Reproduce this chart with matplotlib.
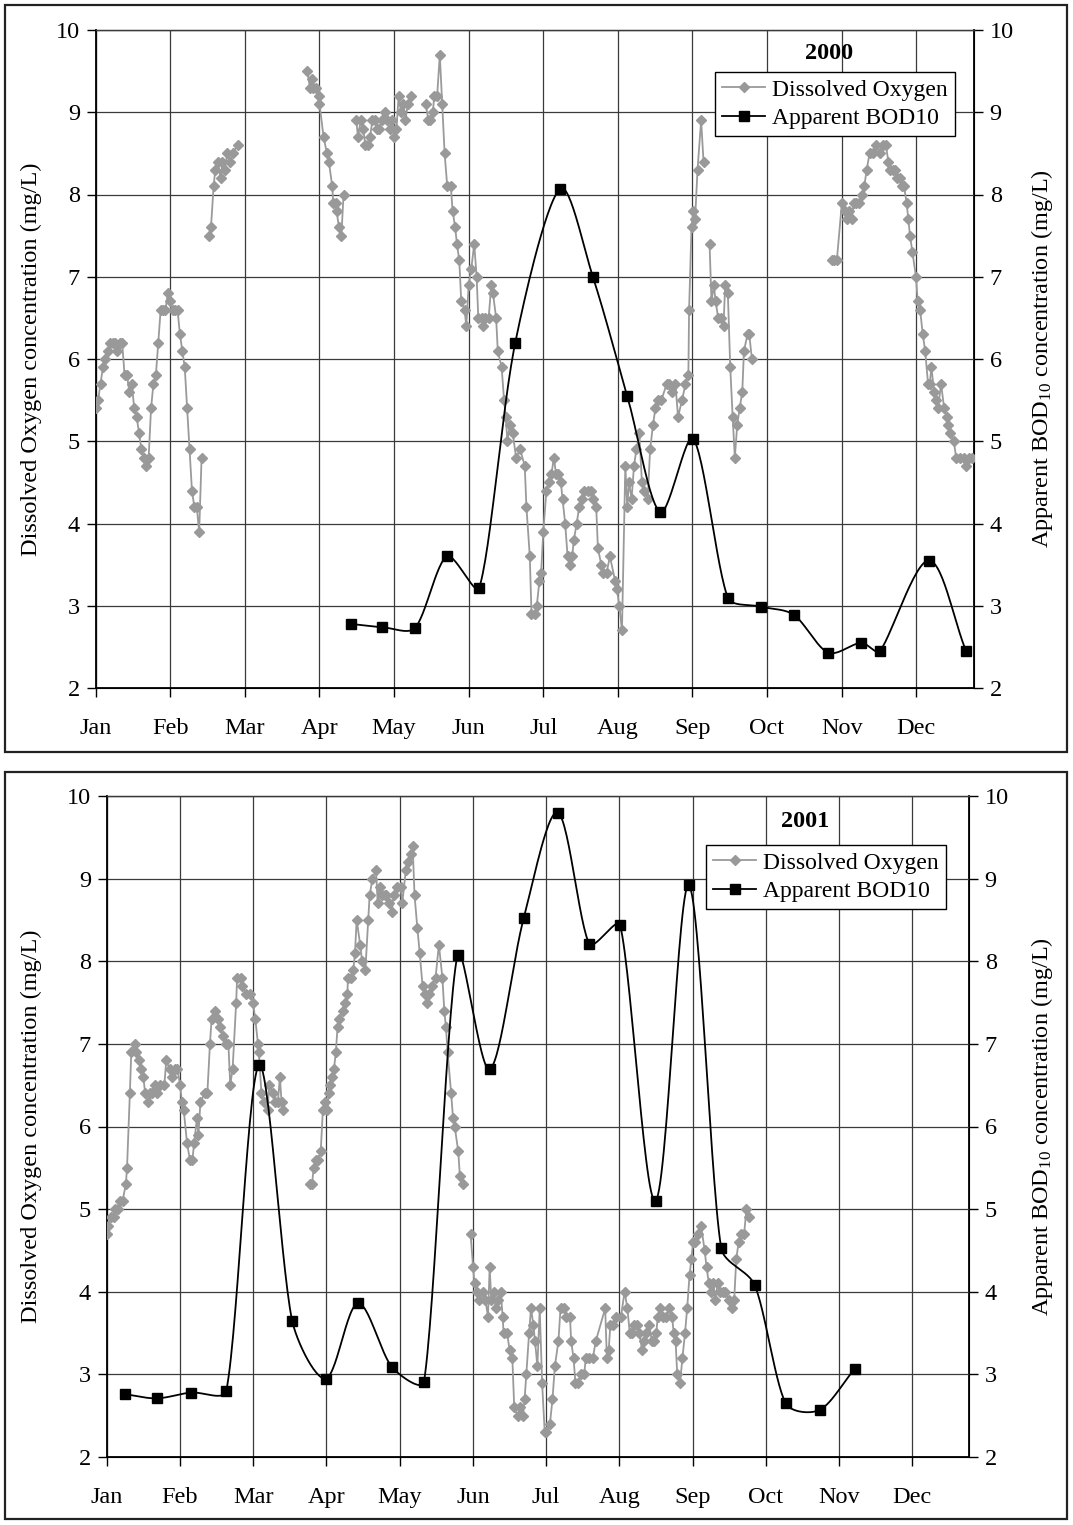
import numpy as np
import matplotlib
matplotlib.use('Agg')
import matplotlib.pyplot as plt
from matplotlib.patches import Rectangle

plt.rcParams['font.family'] = ['Liberation Serif', 'DejaVu Serif']
plt.rcParams['mathtext.default'] = 'regular'

months = ['Jan', 'Feb', 'Mar', 'Apr', 'May', 'Jun', 'Jul', 'Aug', 'Sep', 'Oct', 'Nov', 'Dec']
month_ticks = [31 * i for i in range(12)]
yticks = [2, 3, 4, 5, 6, 7, 8, 9, 10]

# ---- 2000 ----
# dissolved oxygen, day of year / mg/L (nan = break in record)
do00_day = [0, 1, 2, 3, 4, 5, 6, 7, 8, 9, 10, 11, 12, 13, 14, 15, 16, 17, 18, 19, 20, 21, 22, 23, 24,
            25, 26, 27, 28, 29, 30, 31, 32, 33, 34, 35, 36, 37, 38, 39, 40, 41, 42, 43, 44, np.nan,
            46.9, 47.9, 49, 49.7, 50.7, 51.9, 52.6, 53.6, 54.7, 55.9, 56.9, 59, np.nan,
            88, 89, 89.7, 90.4, 91.6, 92.6, 93, 94.7, 96.1, 96.9, 98.3, 98.7, 99.7, 100.1, 101.1, 102.1,
            103, np.nan,
            108.3, 109, 110.1, 111.1, 112.1, 113, 114, 115, 115.9, 116.9, 117.6, 119, 120.1, 121.1, 122.1,
            123.3, 124, 125, 125.9, 126.9, 127.9, 128.7, 129.7, 130.9, np.nan,
            137.1, 138.3, 139, 140.1, 140.7, 141.9, 143, 144, 145, 146.1, 147.6, 148.3, 149.4, 150.1, 151.1,
            151.9, 153.3, 154, 155, 156.1, 157.3, 158.3, 159, 160.4, 161.1, 161.9, 163.3, 164.4, 165.1,
            166.4, 167.1, 168.7, 169.7, 170.4, 171.1, 172.1, 173.3, 174.7, 176.4, 178.3, 179, 180.4, 181.1,
            182.6, 183.3, 184.4, 185.1, 186, 187.3, 188.4, 189.4, 190.4, 191.3, 192.3, 193.3, 194, 195.1,
            196.1, 197, 198, 198.7, 199.9, 200.9, 201.9, 203, 204.4, 205.9, 206.6, 208, 208.7, 210.1, 210.9,
            212.3, 213.7, 215.9, 216.6, 217.6, 218.7, 220.1, 220.9, 221.6, 222.7, 223.7, 224.7, 225.9, 227,
            228, 229.4, 230.4, 231.6, 232.6, 233.7, 235.1, 237.3, 238.4, 239.4, 240.9, 242, 243.7, 245.1,
            246.3, 246.6, 247.6, 248.4, 249.1, 250.1, 251.6, 252.6, np.nan,
            255.1, 255.9, 256.9, 257.6, 258.7, 259.9, 260.9, 261.6, 262.7, 263.7, 264.7, 265.6, 266.6, 267.6,
            268.7, 269.4, 270.9, 271.6, 272.7, np.nan,
            305.9, 307, 308, 310.1, 311.3, 312.3, 313, 314.1, 315.1, 316.1, 317.3, 318.4, 319.4, 320.4, 321.6,
            323, 324.4, 326.1, 327.3, 328.4, 329.4, 330.1, 331.3, 332.3, 333, 334.1, 335.1, 335.9, 337, 337.7,
            338.4, 339.4, 340.9, 341.6, 342.6, 343.7, 344.7, 345.9, 346.6, 347.3, 348.4, 349.4, 350.1, 351.3,
            352.6, 353.6, 354.4, 355, 356.6, 357.6, 359, 360.7, 361.6, 363, 364]
do00_val = [5.4, 5.5, 5.7, 5.9, 6.0, 6.1, 6.2, 6.2, 6.2, 6.1, 6.2, 6.2, 5.8, 5.8, 5.6, 5.7, 5.4, 5.3, 5.1, 4.9,
            4.8, 4.7, 4.8, 5.4, 5.7, 5.8, 6.2, 6.6, 6.6, 6.6, 6.8, 6.7, 6.6, 6.6, 6.6, 6.3, 6.1, 5.9, 5.4, 4.9,
            4.4, 4.2, 4.2, 3.9, 4.8, np.nan,
            7.5, 7.6, 8.1, 8.3, 8.4, 8.2, 8.4, 8.3, 8.5, 8.4, 8.5, 8.6, np.nan,
            9.5, 9.3, 9.4, 9.3, 9.3, 9.2, 9.1, 8.7, 8.5, 8.4, 8.1, 7.9, 7.9, 7.8, 7.6, 7.5, 8.0, np.nan,
            8.9, 8.7, 8.9, 8.8, 8.6, 8.6, 8.7, 8.9, 8.9, 8.8, 8.8, 8.9, 9.0, 8.9, 8.8, 8.9, 8.7, 8.8, 9.2, 9.0,
            9.1, 8.9, 9.1, 9.2, np.nan,
            9.1, 8.9, 8.9, 9.0, 9.2, 9.2, 9.7, 9.1, 8.5, 8.1, 8.1, 7.8, 7.6, 7.4, 7.2, 6.7, 6.6, 6.4, 6.9, 7.1,
            7.4, 7.0, 6.5, 6.5, 6.4, 6.5, 6.5, 6.9, 6.8, 6.5, 6.1, 5.9, 5.5, 5.3, 5.0, 5.2, 5.1, 4.8, 4.9, 4.7,
            4.2, 3.6, 2.9, 2.9, 3.0, 3.3, 3.4, 3.9, 4.4, 4.5, 4.6, 4.8, 4.6, 4.6, 4.5, 4.3, 4.0, 3.6, 3.5, 3.6,
            3.8, 4.0, 4.2, 4.3, 4.4, 4.4, 4.4, 4.3, 4.2, 3.7, 3.5, 3.4, 3.4, 3.6, 3.3, 3.2, 3.0, 2.7, 4.7, 4.2,
            4.5, 4.3, 4.7, 4.9, 5.1, 4.5, 4.4, 4.3, 4.9, 5.2, 5.4, 5.5, 5.5, 5.7, 5.7, 5.6, 5.7, 5.3, 5.5, 5.7,
            5.8, 6.6, 7.6, 7.8, 7.7, 8.3, 8.9, 8.4, np.nan,
            7.4, 6.7, 6.9, 6.7, 6.5, 6.5, 6.4, 6.9, 6.8, 5.9, 5.3, 4.8, 5.2, 5.4, 5.6, 6.1, 6.3, 6.3, 6.0,
            np.nan,
            7.2, 7.2, 7.2, 7.9, 7.8, 7.7, 7.8, 7.7, 7.9, 7.9, 7.9, 8.0, 8.1, 8.3, 8.5, 8.5, 8.6, 8.5, 8.6, 8.6,
            8.4, 8.3, 8.3, 8.3, 8.2, 8.2, 8.1, 8.1, 7.9, 7.7, 7.5, 7.3, 7.0, 6.7, 6.6, 6.3, 6.1, 5.7, 5.7, 5.9,
            5.6, 5.5, 5.4, 5.7, 5.4, 5.3, 5.2, 5.1, 5.0, 4.8, 4.8, 4.8, 4.7, 4.8, 4.8]

bod00_day = [105.9, 119, 132.7, 145.9, 159.4, 174.3, 193, 206.6, 220.9, 234.6, 248.3, 262.7, 276.4, 290.1,
             304.4, 318.1, 325.9, 346.2, 361.7]
bod00_val = [2.78, 2.74, 2.73, 3.60, 3.22, 6.19, 8.07, 7.00, 5.55, 4.14, 5.03, 3.10, 2.99, 2.89, 2.43, 2.55,
             2.45, 3.55, 2.45]

# ---- 2001 ----
do01_day = [0, 0.5, 1.8, 3, 3.7, 4.7, 5.7, 6.7, 8.1, 8.6, 9.8, 10.4, 11.8, 12.6, 13.8, 14.5, 15.5, 16.3, 17.5,
            18.5, 19.2, 20.3, 21.5, 22.5, 24.4, 25.2, 26.6, 27.7, 28.9, 29.9, 31.1, 31.8, 32.6, 34, 35.2, 36.3,
            37, 38.2, 38.8, 39.7, 41.5, 42.6, 43.7, 44.4, 45.9, 47.1, 48.1, 49.1, 50.3, 51.5, 52.3, 53.3, 54.8,
            55.2, 57, 57.4, 58.9, 60.7, 61.9, 62.9, 64, 64.4, 65.5, 66.6, 68.1, 68.8, 70.3, 71.1, 72.5, 73.3,
            74, 74.8, np.nan,
            85.9, 86.9, 87.6, 88.5, 89.6, 90.6, 91.5, 92.5, 93.3, 94, 94.7, 95.5, 96.2, 97, 97.7, 98.4, 99.9,
            100.7, 101.9, 102.1, 103.3, 104.4, 105.1, 105.8, 107.3, 108.1, 109.5, 110.7, 111.3, 112.5, 114,
            114.7, 115.5, 116.7, 117.7, 118.4, 119.6, 120.7, 121.4, 122.9, 124.4, 125.1, 126.6, 127.6, 128.8,
            129.5, 130.3, 131.5, 132.5, 133.7, 134.7, 135.5, 136.5, 137.7, 139.2, 140.6, 142.1, 142.9, 143.6,
            144.3, 145.8, 146.6, 147.3, 148.8, 149.5, 150.7, np.nan,
            154, 155.1, 155.7, 156.9, 157.7, 159.1, 160.3, 161.4, 162.1, 162.8, 164, 164.6, 165.8, 166.8, 167.6,
            168, 169.5, 170.5, 171.7, 172.5, 173.9, 175, 176.2, 176.9, 177.6, 178.8, 179.6, 180.6, 181.3, 182.3,
            183.3, 184.3, 185.4, 186.1, 187.6, 188.7, 189.7, 191.2, 192.1, 193.6, 194.6, 196.1, 196.6, 197.6,
            198.4, 199.5, 200.6, 202.1, 202.8, 204.3, 205.8, 207, 211, 211.7, 212.5, 213.2, 214.4, 215.5, 217.7,
            219.2, 220.4, 221.4, 222.5, 223.4, 224.4, 225.4, 226.6, 227.4, 228.4, 229.6, 230.8, 231.8, 232.6,
            233.3, 234.4, 235.6, 236.7, 238.2, 239.3, 240, 240.8, 241.5, 242.7, 243.7, 244.8, 245.7, 246.7,
            247.5, 248.2, 249.2, 250.4, 251.6, 253.1, 253.9, 254.9, 255.9, 256.8, 257.6, 258.6, 259.4, 260.9,
            261.6, 263.5, 264.6, 265.6, 266.5, 267.5, 268.6, 269.8, 270.8, 272]
do01_val = [4.7, 4.8, 4.9, 4.9, 5.0, 5.0, 5.1, 5.1, 5.3, 5.5, 6.4, 6.9, 7.0, 6.9, 6.8, 6.7, 6.6, 6.4, 6.3, 6.4,
            6.4, 6.5, 6.4, 6.5, 6.5, 6.8, 6.7, 6.6, 6.7, 6.7, 6.5, 6.3, 6.2, 5.8, 5.6, 5.6, 5.8, 6.1, 5.9, 6.3,
            6.4, 6.4, 7.0, 7.3, 7.4, 7.3, 7.2, 7.1, 7.0, 7.0, 6.5, 6.7, 7.5, 7.8, 7.8, 7.7, 7.6, 7.6, 7.5, 7.3,
            7.0, 6.9, 6.4, 6.3, 6.2, 6.5, 6.4, 6.3, 6.3, 6.6, 6.3, 6.2, np.nan,
            5.3, 5.3, 5.5, 5.6, 5.6, 5.7, 6.2, 6.3, 6.2, 6.4, 6.5, 6.6, 6.7, 6.9, 7.2, 7.3, 7.4, 7.5, 7.6, 7.8,
            7.8, 7.9, 8.1, 8.5, 8.2, 8.0, 7.9, 8.5, 8.8, 9.0, 9.1, 8.7, 8.9, 8.8, 8.8, 8.8, 8.7, 8.6, 8.8, 8.9,
            8.9, 8.7, 9.1, 9.2, 9.3, 9.4, 8.8, 8.4, 8.1, 7.7, 7.6, 7.5, 7.6, 7.7, 7.8, 8.2, 7.8, 7.4, 7.2, 6.9,
            6.4, 6.1, 6.0, 5.7, 5.4, 5.3, np.nan,
            4.7, 4.3, 4.1, 4.0, 3.9, 4.0, 3.9, 3.7, 4.3, 3.9, 4.0, 3.8, 3.9, 4.0, 3.7, 3.5, 3.5, 3.3, 3.2, 2.6,
            2.5, 2.6, 2.5, 2.7, 3.0, 3.5, 3.8, 3.6, 3.4, 3.1, 3.8, 2.9, 2.3, 2.3, 2.4, 2.7, 3.1, 3.4, 3.8, 3.8,
            3.7, 3.7, 3.4, 3.2, 2.9, 2.9, 3.0, 3.0, 3.2, 3.2, 3.2, 3.4, 3.8, 3.2, 3.3, 3.6, 3.6, 3.7, 3.7, 4.0,
            3.8, 3.5, 3.5, 3.6, 3.6, 3.5, 3.3, 3.4, 3.5, 3.6, 3.4, 3.4, 3.5, 3.7, 3.8, 3.7, 3.7, 3.8, 3.7, 3.5,
            3.4, 3.0, 2.9, 3.2, 3.5, 3.8, 4.2, 4.4, 4.6, 4.6, 4.7, 4.8, 4.5, 4.3, 4.1, 4.0, 4.1, 3.9, 4.1, 4.0,
            4.0, 4.0, 3.9, 3.8, 3.9, 4.4, 4.6, 4.7, 4.7, 5.0, 4.9]

bod01_day = [7.7, 21.2, 35.5, 50.6, 64.4, 78.5, 92.8, 106.3, 120.7, 134.3, 148.5, 162.1, 176.5, 190.9, 204.3,
             217.3, 232.3, 246.4, 260.1, 274.3, 287.4, 301.8, 316.7]
bod01_val = [2.76, 2.71, 2.78, 2.80, 6.74, 3.65, 2.95, 3.86, 3.09, 2.91, 8.08, 6.69, 8.52, 9.80, 8.21, 8.44,
             5.10, 8.92, 4.53, 4.08, 2.65, 2.57, 3.07]

W, H = 1073, 1525
FS = 17.5


def smooth(x, y, sx, sy, n=30):
    # bezier smoothing like Excel's "smoothed line", worked out in screen units
    P = np.column_stack([np.asarray(x, float) * sx, np.asarray(y, float) * sy])
    N = len(P)
    t = np.linspace(0, 1, n)[:, None]
    out = []
    for i in range(N - 1):
        p1, p2 = P[i], P[i + 1]
        d12 = np.linalg.norm(p2 - p1)
        if i > 0:
            d01 = np.linalg.norm(p1 - P[i - 1])
            c1 = p1 + (p2 - P[i - 1]) / 6 * min(1, 2 * d12 / (d01 + d12))
        else:
            c1 = p1 + (p2 - p1) / 3
        if i + 2 < N:
            d23 = np.linalg.norm(P[i + 2] - p2)
            c2 = p2 - (P[i + 2] - p1) / 6 * min(1, 2 * d12 / (d12 + d23))
        else:
            c2 = p2 - (p2 - p1) / 3
        b = (1 - t) ** 3 * p1 + 3 * (1 - t) ** 2 * t * c1 + 3 * (1 - t) * t ** 2 * c2 + t ** 3 * p2
        out.append(b)
    c = np.vstack(out)
    return c[:, 0] / sx, c[:, 1] / sy


def panel(rect, box, do_d, do_v, bod_d, bod_v, year, title_xy, leg_xy, lab_l, lab_r):
    fig.add_artist(Rectangle((box[0] / W, 1 - box[3] / H), (box[2] - box[0]) / W, (box[3] - box[1]) / H,
                             transform=fig.transFigure, fill=False, lw=1.6, ec='#222222'))
    l, t, r, b = rect
    ax = fig.add_axes([l / W, 1 - b / H, (r - l) / W, (b - t) / H])
    ax2 = ax.twinx()
    ax.set_zorder(ax2.get_zorder() + 1)
    ax.patch.set_visible(False)

    for a in (ax, ax2):
        a.set_xlim(0, 365)
        a.set_ylim(2, 10)
        a.set_yticks(yticks)
        a.set_yticklabels([str(v) for v in yticks])
    ax.set_xticks(month_ticks)
    ax.set_xticklabels(months)
    ax.grid(True, color='#3a3a3a', lw=0.9)
    ax.set_axisbelow(True)
    ax.tick_params(axis='both', direction='out', length=6.3, width=1, labelsize=FS, pad=5)
    ax.tick_params(axis='x', pad=15)
    ax2.tick_params(axis='y', direction='out', length=6.3, width=1, labelsize=FS, pad=5)
    for s in ['left', 'bottom']:
        ax.spines[s].set_linewidth(1.3)
    ax2.spines['right'].set_linewidth(1.3)
    for a in (ax, ax2):
        a.spines['top'].set_color('#3a3a3a')
        a.spines['top'].set_linewidth(0.9)

    l1, = ax.plot(do_d, do_v, color='#9a9a9a', lw=1.3, marker='D', ms=5.5, mfc='#999999', mec='#999999',
                  label='Dissolved Oxygen', zorder=3)
    sx, sy = smooth(bod_d, bod_v, (r - l) / 365, (b - t) / 8)
    ax.plot(sx, sy, color='black', lw=1.3, zorder=4)
    ax.plot(bod_d, bod_v, ls='none', marker='s', ms=7, color='black', zorder=5)
    l2, = ax.plot([], [], color='black', lw=1.3, marker='s', ms=7, label='Apparent BOD10')

    ax.set_ylabel(lab_l, fontsize=FS)
    ax.yaxis.set_label_coords((42 - l) / (r - l), 0.5)
    ax2.set_ylabel(lab_r, fontsize=FS, rotation=90)
    ax2.yaxis.set_label_coords((1029 - l) / (r - l), 0.5)

    ax.text(title_xy[0], title_xy[1], year, transform=ax.transAxes, ha='center', va='center',
            fontsize=FS, fontweight='bold')
    leg = ax.legend(handles=[l1, l2], loc='upper right', bbox_to_anchor=leg_xy, fontsize=17,
                    frameon=True, fancybox=False, edgecolor='black', framealpha=1, handlelength=1.8,
                    handletextpad=0.3, borderpad=0.3, labelspacing=0.3, borderaxespad=0)
    leg.get_frame().set_linewidth(1.0)
    return ax


fig = plt.figure(figsize=(W / 100, H / 100), dpi=100)

lab_l = 'Dissolved Oxygen concentration (mg/L)'
lab_r = 'Apparent BOD$_{10}$ concentration (mg/L)'

panel((95.7, 30, 974, 688), (5, 5, 1067, 752), do00_day, do00_val, bod00_day, bod00_val, '2000',
      (0.835, 0.964), (0.978, 0.936), lab_l, lab_r)
panel((106.7, 796, 969, 1457), (5, 772, 1067, 1519), do01_day, do01_val, bod01_day, bod01_val, '2001',
      (0.81, 0.961), (0.973, 0.926), lab_l, lab_r)

fig.savefig('out.png', dpi=100)
